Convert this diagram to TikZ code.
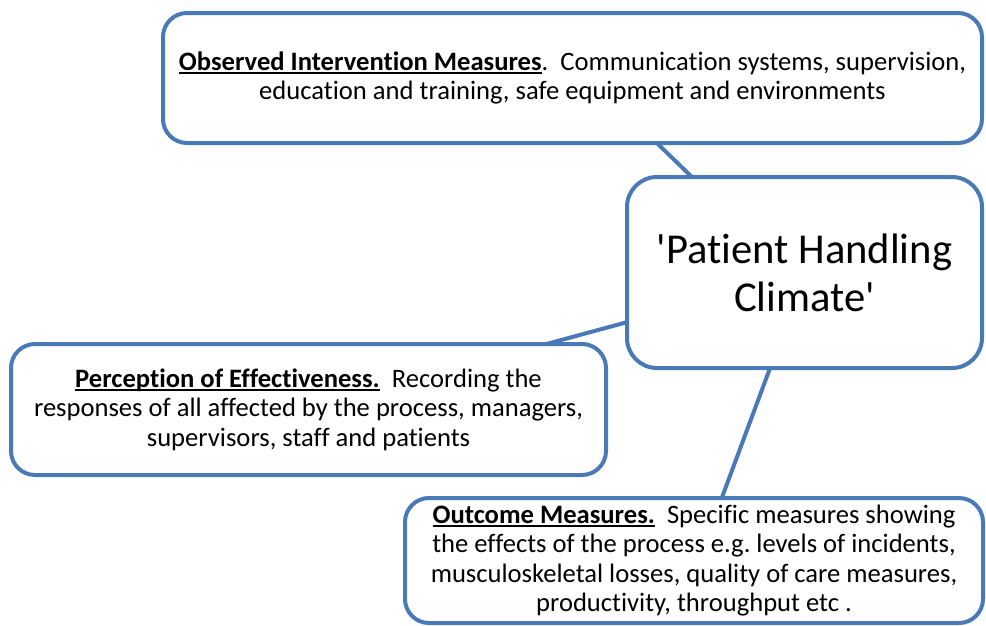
\documentclass[tikz,border=0pt]{standalone}
\usepackage{fontspec}
\setmainfont{Carlito}[Ligatures={TeX,NoCommon}]
\newfontfamily\hubfont{Carlito}[Ligatures=NoCommon]
\usetikzlibrary{calc,backgrounds}
\frenchspacing

\definecolor{frameblue}{RGB}{74,122,181}

% bold heading with a thick underline
\newcommand\uhead[1]{\textbf{\setbox0\hbox{#1}\rlap{\rule[-3.5pt]{\wd0}{1.8pt}}\box0}}

\begin{document}
\begin{tikzpicture}[
  x=1pt, y=-1pt,
  every node/.style={align=center},
  box/.style={draw=frameblue, line width=4pt, fill=white, rounded corners=24pt,
              inner sep=0pt, outer sep=0pt, font=\fontsize{26.6}{29.5}\selectfont},
  hub/.style={box, rounded corners=30pt, font=\hubfont\fontsize{42.6}{48}\selectfont},
  link/.style={draw=frameblue, line width=4pt},
]
  \useasboundingbox (0,0) rectangle (986,625);

  \node[box, minimum width=819pt, minimum height=130pt] (obs) at (572.5,78)
    {\uhead{Observed Intervention Measures}.\ \ Communication systems, supervision,\\
     education and training, safe equipment and environments};
  \node[hub, minimum width=355pt, minimum height=191pt] (clim) at (804.5,272.5)
    {'Patient Handling\\Climate'};
  \node[box, minimum width=595pt, minimum height=131pt] (perc) at (308.5,409.5)
    {\uhead{Perception of Effectiveness.}\ \ Recording the\\
     responses of all affected by the process, managers,\\
     supervisors, staff and patients};
  \node[box, minimum width=578pt, minimum height=125pt] (outc) at (694,560.5)
    {\uhead{Outcome Measures.}\ \ Specific measures showing\\
     the effects of the process e.g. levels of incidents,\\
     musculoskeletal losses, quality of care measures,\\
     productivity, throughput etc .};

  % spokes run behind the boxes
  \begin{scope}[on background layer]
    \draw[link] ($(obs.south west)!0.603!(obs.south east)$) -- ($(clim.north west)!0.183!(clim.north east)$);
    \draw[link] ($(perc.north west)!0.9!(perc.north east)$) -- ($(clim.north west)!0.76!(clim.south west)$);
    \draw[link] ($(clim.south west)!0.403!(clim.south east)$) -- ($(outc.north west)!0.548!(outc.north east)$);
  \end{scope}
\end{tikzpicture}
\end{document}
